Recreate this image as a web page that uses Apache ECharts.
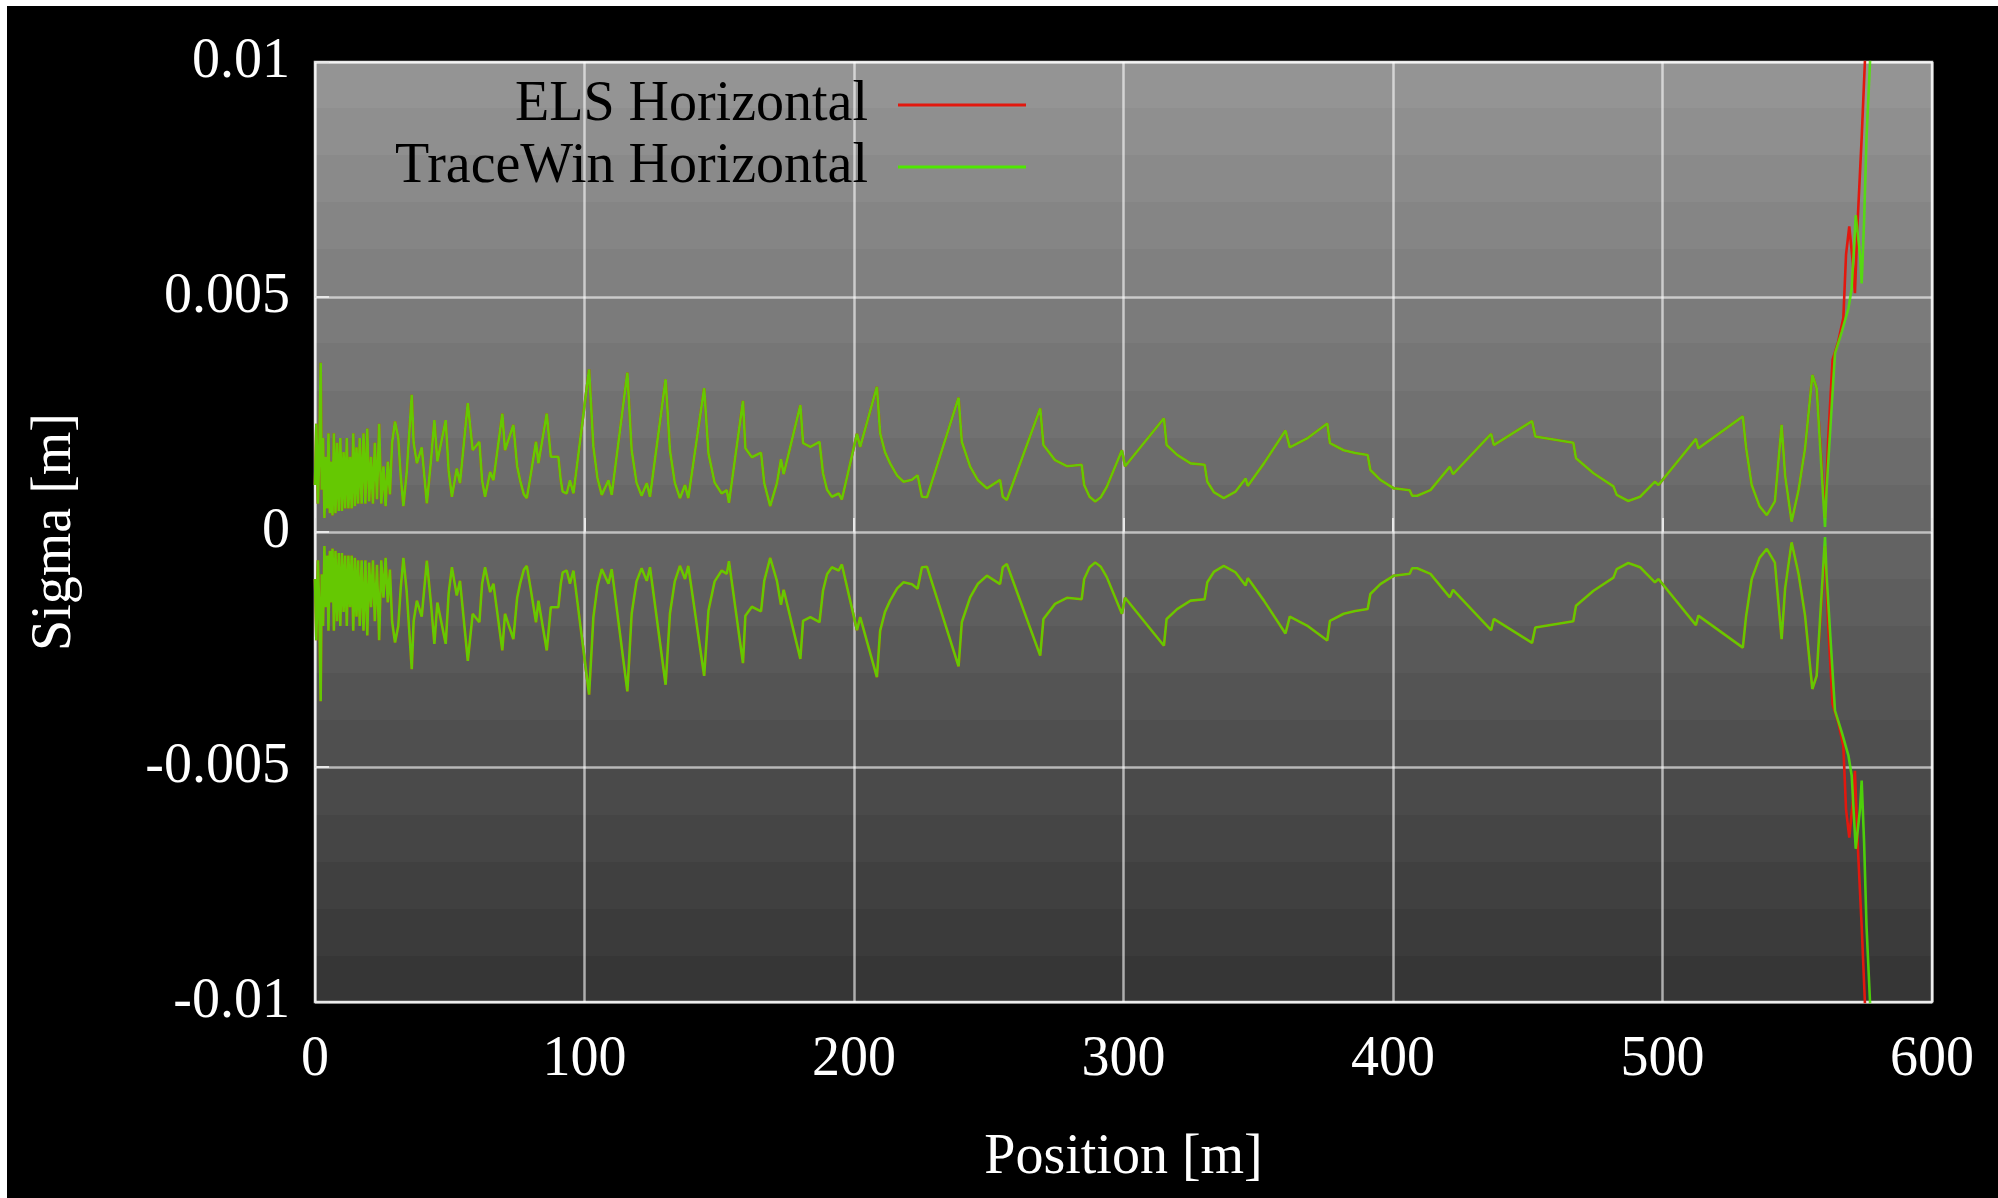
<!DOCTYPE html>
<html>
<head>
    <meta charset="UTF-8">
    <script src="https://cdn.jsdelivr.net/npm/echarts@6.0.0/dist/echarts.min.js"></script>
    <style>
        body { margin: 0; background: #fff; }
        #container { position: absolute; left: 7px; top: 6px; width: 1991px; height: 1192px; background: #000; }
    </style>
</head>
<body>
<div id="container"></div>
<script type="text/javascript">
    // axis ticks
    var xTicks = [0, 100, 200, 300, 400, 500, 600];
    var yTicks = [-0.01, -0.005, 0, 0.005, 0.01];

    // position [m] / sigma [m] where both codes overlap
    var commonPos = [
        0, 0.5, 1.1, 1.6, 2.1, 2.5, 3.0, 3.5, 4.0, 4.5, 5.0, 5.5, 6.0, 6.5, 7.0, 7.6, 8.2, 8.8, 9.4, 10.0,
        10.6, 11.2, 11.8, 12.4, 13.0, 13.6, 14.2, 14.8, 15.4, 16.0, 16.6, 17.3, 18.0, 18.7, 19.4, 20.1,
        20.8, 21.5, 22.2, 23.0, 23.8, 24.6, 25.4, 26.2, 27.0, 27.8, 28.6, 29.7, 30.9, 31.8, 32.8, 34.0,
        35.9, 36.6, 37.8, 39.6, 41.5, 43.0, 44.3, 45.4, 48.5, 49.6, 50.8, 52.6, 53.8, 56.7, 58.5, 61.0,
        62.0, 63.1, 65.0, 66.2, 69.5, 70.5, 73.6, 75.0, 76.1, 77.5, 78.6, 80.0, 82.0, 82.9, 86.0, 87.5,
        90.3, 91.2, 91.9, 93.4, 94.6, 95.9, 98.4, 101.7, 103.3, 104.8, 106.4, 108.9, 110.1, 115.9, 117.5,
        119.3, 121.2, 123.1, 124.3, 130.1, 131.7, 133.5, 135.4, 137.3, 138.5, 144.4, 146.0, 148.3, 150.9,
        152.8, 153.6, 158.8, 159.7, 162.1, 165.5, 166.7, 168.9, 171.4, 172.9, 173.9, 180.1, 181.1, 183.8,
        187.2, 188.5, 190.0, 191.8, 194.3, 195.5, 201.1, 202.3, 208.5, 209.7, 211.5, 213.4, 216.0, 218.4,
        221.5, 223.6, 225.2, 227.1, 238.8, 240.0, 243.1, 246.0, 249.3, 254.2, 255.2, 256.7, 269.1, 270.3,
        274.6, 279.0, 284.5, 285.4, 287.4, 289.5, 291.6, 293.8, 299.4, 300.6, 315.0, 316.0, 319.9, 324.9,
        330.1, 331.1, 333.5, 337.2, 341.6, 345.3, 346.1, 352.1, 360.1, 361.7, 368.1, 375.6, 376.6, 381.7,
        386.0, 390.6, 391.6, 395.3, 400.3, 406.2, 407.1, 409.0, 413.9, 421.1, 422.3, 436.4, 437.4, 451.6,
        452.8, 466.9, 467.9, 474.4, 481.8, 483.0, 487.3, 491.7, 497.2, 498.5, 512.4, 513.3, 529.8, 531.0,
        533.1, 536.0, 538.7, 541.7, 544.2, 545.5, 547.9, 550.5, 552.9, 555.6, 557.2
    ];
    var commonSigma = [
        0.00100, 0.00230, 0.00060, 0.00170, 0.00360, 0.00090, 0.00200, 0.00030, 0.00160, 0.00050,
        0.00210, 0.00040, 0.00150, 0.00035, 0.00210, 0.00040, 0.00190, 0.00045, 0.00200, 0.00045,
        0.00170, 0.00050, 0.00200, 0.00050, 0.00160, 0.00050, 0.00210, 0.00055, 0.00180, 0.00060,
        0.00200, 0.00060, 0.00210, 0.00060, 0.00220, 0.00065, 0.00160, 0.00060, 0.00190, 0.00070,
        0.00230, 0.00060, 0.00140, 0.00055, 0.00150, 0.00080, 0.00190, 0.00235, 0.00200, 0.00120,
        0.00055, 0.00125, 0.00292, 0.00190, 0.00146, 0.00180, 0.00061, 0.00150, 0.00238, 0.00150,
        0.00238, 0.00130, 0.00075, 0.00135, 0.00104, 0.00274, 0.00174, 0.00192, 0.00110, 0.00075,
        0.00128, 0.00110, 0.00252, 0.00174, 0.00228, 0.00140, 0.00110, 0.00080, 0.00072, 0.00120,
        0.00192, 0.00146, 0.00252, 0.00160, 0.00160, 0.00110, 0.00086, 0.00082, 0.00110, 0.00082,
        0.00196, 0.00346, 0.00181, 0.00115, 0.00079, 0.00110, 0.00079, 0.00339, 0.00174, 0.00105,
        0.00077, 0.00104, 0.00075, 0.00325, 0.00174, 0.00105, 0.00072, 0.00100, 0.00072, 0.00306,
        0.00167, 0.00105, 0.00082, 0.00089, 0.00062, 0.00279, 0.00178, 0.00159, 0.00169, 0.00104,
        0.00055, 0.00104, 0.00155, 0.00123, 0.00270, 0.00189, 0.00181, 0.00192, 0.00125, 0.00090,
        0.00075, 0.00082, 0.00069, 0.00209, 0.00181, 0.00309, 0.00210, 0.00170, 0.00146, 0.00120,
        0.00107, 0.00111, 0.00121, 0.00075, 0.00074, 0.00286, 0.00192, 0.00139, 0.00110, 0.00093,
        0.00111, 0.00075, 0.00068, 0.00263, 0.00185, 0.00153, 0.00140, 0.00143, 0.00100, 0.00075,
        0.00065, 0.00074, 0.00096, 0.00174, 0.00140, 0.00242, 0.00185, 0.00164, 0.00146, 0.00143,
        0.00107, 0.00085, 0.00072, 0.00086, 0.00114, 0.00098, 0.00146, 0.00216, 0.00180, 0.00199,
        0.00231, 0.00189, 0.00174, 0.00168, 0.00164, 0.00132, 0.00111, 0.00093, 0.00089, 0.00077,
        0.00077, 0.00089, 0.00139, 0.00123, 0.00209, 0.00185, 0.00236, 0.00203, 0.00190, 0.00157,
        0.00125, 0.00097, 0.00079, 0.00066, 0.00075, 0.00107, 0.00100, 0.00198, 0.00178, 0.00246,
        0.00180, 0.00100, 0.00055, 0.00036, 0.00065, 0.00228, 0.00120, 0.00022, 0.00090, 0.00178,
        0.00334, 0.00306
    ];

    // where the two codes part at the end of the line
    var elsTailPos = [560.3, 561.5, 563.1, 565.2, 567.1, 568.1, 569.3, 570.6, 571.4, 572.4, 573.9, 575.1, 575.4];
    var elsTailSigma = [0.00030, 0.00200, 0.00366, 0.00405, 0.00455, 0.00590, 0.00650, 0.00575, 0.00508, 0.00660, 0.00838, 0.01000, 0.01060];
    var twTailPos = [560.3, 560.9, 562.8, 564.0, 566.5, 569.0, 570.2, 571.7, 573.3, 573.9, 574.8, 575.7, 577.0, 577.3];
    var twTailSigma = [0.00011, 0.00093, 0.00270, 0.00380, 0.00426, 0.00476, 0.00518, 0.00674, 0.00589, 0.00529, 0.00660, 0.00838, 0.01000, 0.01060];

    var serif = '"Liberation Serif", "Times New Roman", serif';

    function pairs(xs, ys, sign) {
        return xs.map(function (x, i) { return [x, sign * ys[i]]; });
    }

    var elsPos = commonPos.concat(elsTailPos);
    var elsSigma = commonSigma.concat(elsTailSigma);
    var twPos = commonPos.concat(twTailPos);
    var twSigma = commonSigma.concat(twTailSigma);

    // stepped grey background like the original terminal
    var bands = 20, stops = [];
    for (var i = 0; i < bands; i++) {
        var g = Math.round(150 - (150 - 52) * (i + 0.5) / bands);
        var c = 'rgb(' + g + ',' + g + ',' + g + ')';
        stops.push({offset: i / bands, color: c});
        stops.push({offset: (i + 1) / bands, color: c});
    }

    var red = '#e2180e';
    var green = '#4fe800';

    function lineSeries(name, data, color, opacity, z) {
        return {
            name: name,
            type: 'line',
            data: data,
            showSymbol: false,
            symbol: 'none',
            z: z,
            itemStyle: {color: color, opacity: 1},
            lineStyle: {color: color, width: 2.6, opacity: opacity}
        };
    }

    var dom = document.getElementById('container');
    var myChart = echarts.init(dom, null, {renderer: 'canvas'});

    var option = {
        backgroundColor: '#000',
        animation: false,
        grid: {
            left: 308,
            top: 56,
            right: 66,
            bottom: 196,
            show: true,
            backgroundColor: new echarts.graphic.LinearGradient(0, 0, 0, 1, stops),
            borderColor: 'rgba(235,235,235,0.9)',
            borderWidth: 2.5
        },
        legend: {
            data: ['ELS Horizontal', 'TraceWin Horizontal'],
            orient: 'vertical',
            align: 'right',
            right: 972,
            top: 68,
            padding: 0,
            itemGap: 0,
            itemWidth: 128,
            itemHeight: 3,
            icon: 'rect',
            textStyle: {
                color: '#000',
                fontFamily: serif,
                fontSize: 56,
                lineHeight: 62,
                padding: [0, 25, 0, 0]
            }
        },
        xAxis: {
            type: 'value',
            min: xTicks[0],
            max: xTicks[xTicks.length - 1],
            interval: xTicks[1] - xTicks[0],
            name: 'Position [m]',
            nameLocation: 'middle',
            nameGap: 128,
            nameTextStyle: {color: '#fff', fontFamily: serif, fontSize: 56},
            axisLine: {show: false},
            axisTick: {show: true, inside: true, length: 14, lineStyle: {color: '#e8e8e8', width: 2}},
            axisLabel: {color: '#fff', fontFamily: serif, fontSize: 56, margin: 30},
            splitLine: {show: true, lineStyle: {color: 'rgba(255,255,255,0.6)', width: 2.5}}
        },
        yAxis: {
            type: 'value',
            min: yTicks[0],
            max: yTicks[yTicks.length - 1],
            interval: yTicks[1] - yTicks[0],
            name: 'Sigma [m]',
            nameLocation: 'middle',
            nameRotate: 90,
            nameGap: 232,
            nameTextStyle: {color: '#fff', fontFamily: serif, fontSize: 56},
            axisLine: {show: false},
            axisTick: {show: true, inside: true, length: 14, lineStyle: {color: '#e8e8e8', width: 2}},
            axisLabel: {
                color: '#fff', fontFamily: serif, fontSize: 56, margin: 25,
                formatter: function (v) { return String(Math.round(v * 1000) / 1000); }
            },
            splitLine: {show: true, lineStyle: {color: 'rgba(255,255,255,0.6)', width: 2.5}}
        },
        series: [
            lineSeries('ELS Horizontal', pairs(elsPos, elsSigma, 1), red, 1, 2),
            lineSeries('ELS Horizontal', pairs(elsPos, elsSigma, -1), red, 1, 2),
            lineSeries('TraceWin Horizontal', pairs(twPos, twSigma, 1), green, 0.85, 3),
            lineSeries('TraceWin Horizontal', pairs(twPos, twSigma, -1), green, 0.85, 3)
        ]
    };

    myChart.setOption(option);
    window.addEventListener('resize', myChart.resize);
</script>
</body>
</html>
